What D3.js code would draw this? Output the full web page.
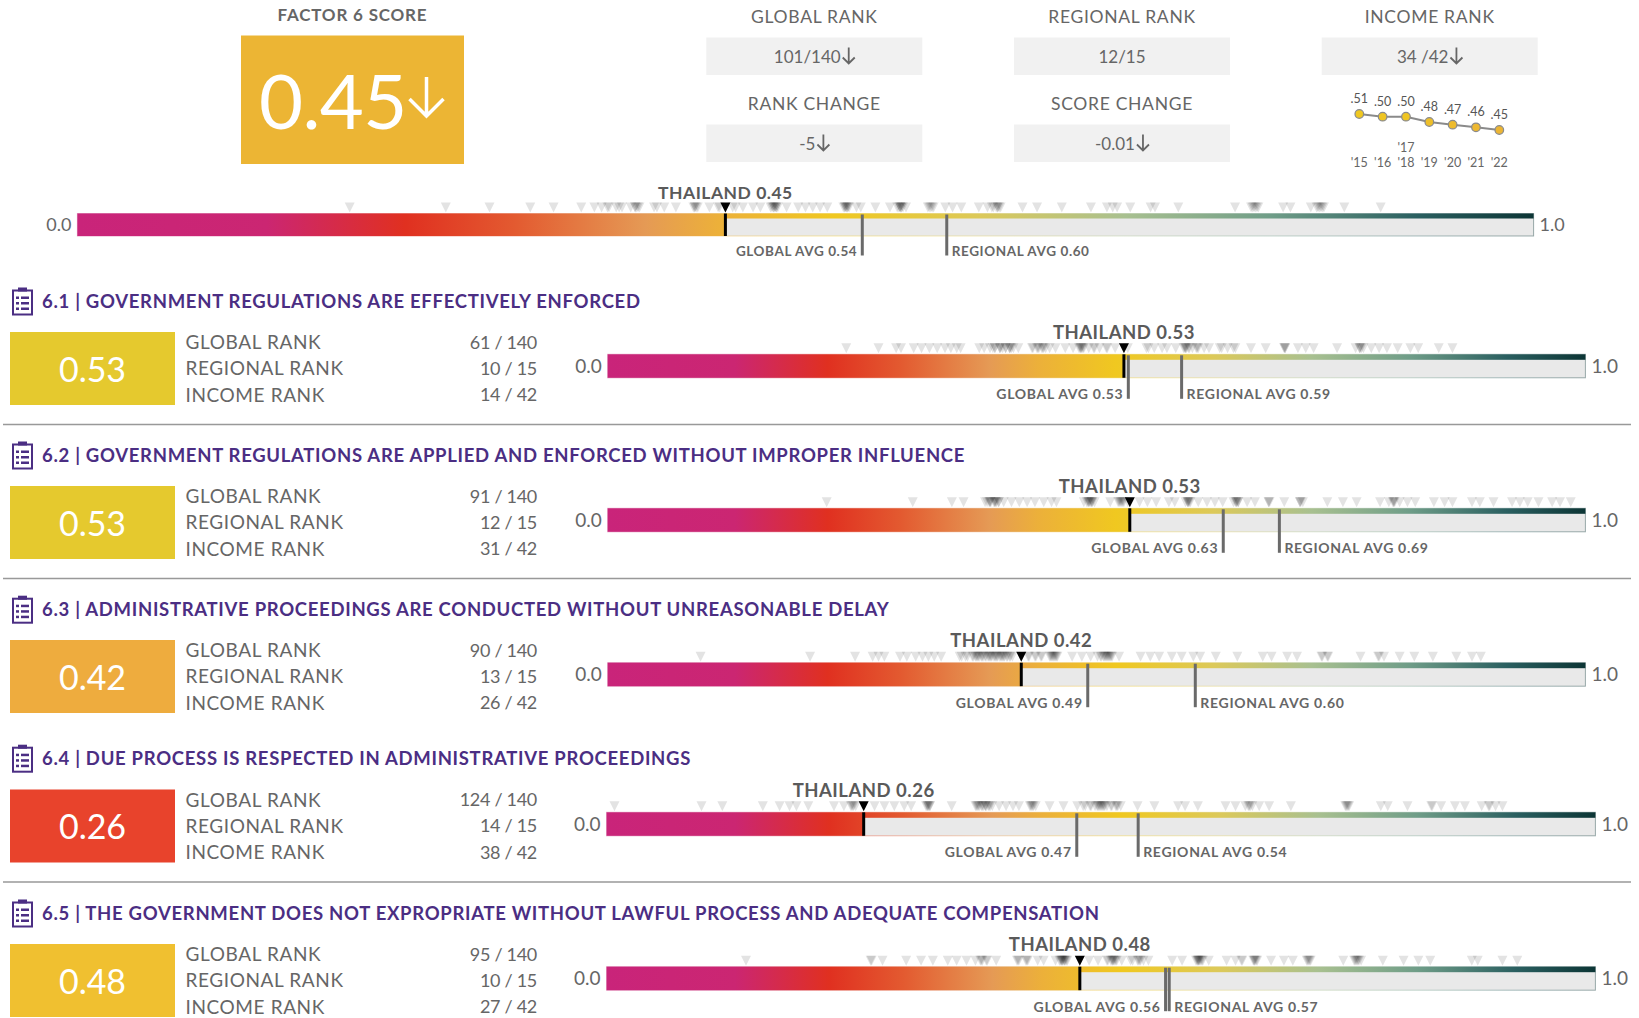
<!DOCTYPE html>
<html>
<head>
<meta charset="utf-8">
<script src="https://cdn.jsdelivr.net/npm/d3@7"></script>
<style>
  html, body { margin: 0; padding: 0; background: #fff; overflow: hidden; }
  text { font-family: Lato, sans-serif; dominant-baseline: central; }
</style>
</head>
<body>
<svg id="chart" width="1639" height="1018"></svg>
<script>
// ---- data ----
const factorScore = 0.445;
const factorLabel = '0.45';
const factorAvg = [0.539, 0.597];
const factorAvgLabels = ['GLOBAL AVG 0.54', 'REGIONAL AVG 0.60'];
const factorCountries = [.187,.253,.283,.311,.327,.346,.355,.360,.365,.370,.374,.380,.383,.384,.386,.396,.403,.411,.423,.424,.426,.434,.440,.450,.457,.464,.469,.476,.478,.479,.481,.487,.495,.500,.505,.510,.515,.526,.528,.530,.535,.538,.548,.558,.563,.565,.566,.569,.584,.586,.588,.596,.601,.607,.619,.625,.628,.632,.634,.649,.659,.676,.696,.707,.711,.714,.723,.737,.740,.756,.795,.806,.809,.811,.828,.833,.847,.851,.854,.856,.870,.895,
  .383,.385,.424,.425,.477,.478,.480,.480,.527,.528,.529,.564,.565,.566,.565,.567,.585,.587,.629,.631,.632,.633,.807,.808,.810,.852,.853,.855,.364,.372,.398,.441,.452,.479,.527,.529];

const headerStats = ['GLOBAL RANK', 'REGIONAL RANK', 'INCOME RANK', 'RANK CHANGE', 'SCORE CHANGE'];
const headerValues = ['101/140', '12/15', '34 /42', '-5', '-0.01'];
const headerArrows = [true, false, true, true, true];

const trendYears = ["'15", "'16", "'18", "'19", "'20", "'21", "'22"];
const trendScores = [.51, .50, .50, .48, .47, .46, .45];
const trendLabels = ['.51', '.50', '.50', '.48', '.47', '.46', '.45'];

const subTitles = [
  '6.1 | GOVERNMENT REGULATIONS ARE EFFECTIVELY ENFORCED',
  '6.2 | GOVERNMENT REGULATIONS ARE APPLIED AND ENFORCED WITHOUT IMPROPER INFLUENCE',
  '6.3 | ADMINISTRATIVE PROCEEDINGS ARE CONDUCTED WITHOUT UNREASONABLE DELAY',
  '6.4 | DUE PROCESS IS RESPECTED IN ADMINISTRATIVE PROCEEDINGS',
  '6.5 | THE GOVERNMENT DOES NOT EXPROPRIATE WITHOUT LAWFUL PROCESS AND ADEQUATE COMPENSATION'
];
const subScores = [.528, .534, .423, .260, .4786];
const subScoreLabels = ['0.53', '0.53', '0.42', '0.26', '0.48'];
const subGlobalAvg = [.5325, .6296, .491, .4755, .5653];
const subRegionalAvg = [.587, .687, .601, .5376, .569];
const subGlobalLabels = ['0.53', '0.63', '0.49', '0.47', '0.56'];
const subRegionalLabels = ['0.59', '0.69', '0.60', '0.54', '0.57'];
const rankNames = ['GLOBAL RANK', 'REGIONAL RANK', 'INCOME RANK'];
const subRanks = [
  ['61 / 140', '10 / 15', '14 / 42'],
  ['91 / 140', '12 / 15', '31 / 42'],
  ['90 / 140', '13 / 15', '26 / 42'],
  ['124 / 140', '14 / 15', '38 / 42'],
  ['95 / 140', '10 / 15', '27 / 42']
];
const subCountries = [
  [.244,.277,.295,.300,.313,.321,.329,.337,.345,.351,.357,.361,.380,.385,.391,.396,.401,.407,.411,.415,.420,.434,.439,.444,.448,.452,.458,.468,.476,.482,.484,.487,.492,.498,.503,.511,.519,.532,.551,.559,.567,.572,.581,.589,.591,.594,.602,.610,.615,.626,.634,.642,.658,.673,.692,.693,.706,.714,.722,.746,.765,.769,.773,.781,.789,.797,.808,.821,.829,.850,.864,
   .396,.401,.402,.407,.411,.412,.413,.435,.440,.441,.445,.446,.483,.484,.485,.486,.590,.591,.592,.692,.693,.769,.770,.771,.553,.603,.604,.628,.640,.598,.394,.404,.497,.510,.595],
  [.224,.312,.352,.364,.386,.391,.396,.400,.405,.413,.421,.429,.437,.446,.454,.459,.487,.492,.495,.498,.514,.522,.528,.532,.544,.552,.561,.574,.580,.591,.593,.596,.604,.613,.621,.629,.640,.643,.645,.654,.662,.676,.692,.708,.711,.736,.752,.766,.790,.799,.804,.810,.818,.826,.845,.856,.864,.884,.892,.906,.925,.933,.941,.952,.966,.974,.985,
   .390,.391,.392,.396,.397,.398,.490,.491,.492,.493,.494,.495,.524,.525,.526,.527,.593,.594,.595,.642,.643,.644,.676,.708,.709,.803,.804,.805,.395,.400,.594,.645,.677,.388,.523,.496],
  [.095,.207,.253,.271,.277,.283,.299,.306,.315,.322,.328,.334,.341,.360,.366,.373,.376,.379,.382,.386,.389,.392,.395,.398,.401,.405,.408,.411,.414,.430,.437,.443,.453,.456,.459,.475,.485,.494,.501,.504,.507,.510,.513,.516,.523,.545,.555,.564,.577,.587,.599,.606,.622,.644,.670,.679,.695,.705,.730,.737,.770,.788,.794,.810,.825,.844,.868,.884,.893,
   .362,.368,.374,.378,.380,.384,.387,.390,.393,.396,.399,.402,.404,.406,.409,.412,.431,.438,.444,.452,.454,.457,.458,.460,.505,.508,.511,.514,.731,.736,.789,.377,.383,.391,.397,.403,.455,.509,.512,.515],
  [.008,.096,.117,.158,.175,.185,.192,.204,.230,.240,.247,.250,.271,.281,.291,.301,.308,.323,.325,.327,.349,.373,.376,.380,.383,.387,.390,.397,.404,.411,.417,.428,.431,.434,.448,.462,.476,.482,.489,.496,.499,.503,.510,.516,.520,.537,.554,.578,.585,.598,.626,.636,.646,.653,.660,.670,.692,.747,.751,.783,.790,.810,.834,.844,.858,.868,.885,.892,.899,.906,
   .248,.249,.252,.324,.325,.326,.327,.374,.377,.379,.381,.384,.386,.388,.429,.430,.432,.484,.490,.494,.498,.501,.504,.506,.511,.515,.517,.649,.650,.651,.748,.749,.750,.835,.893,.375,.383,.497,.500,.502],
  [.141,.267,.279,.303,.318,.330,.345,.354,.364,.373,.379,.385,.394,.415,.424,.436,.442,.454,.460,.463,.466,.488,.497,.506,.512,.515,.521,.530,.539,.548,.572,.582,.597,.602,.609,.627,.636,.642,.654,.657,.672,.685,.694,.709,.712,.745,.757,.763,.785,.806,.821,.833,.875,.881,.906,.921,
   .268,.416,.425,.426,.378,.380,.384,.458,.459,.460,.461,.462,.464,.465,.507,.510,.511,.513,.514,.516,.532,.538,.540,.543,.596,.598,.599,.600,.601,.603,.655,.656,.658,.710,.711,.756,.758,.759,.761,.643,.461,.512,.598,.655,.463,.599,.417,.537,.708,.760],
];

// ---- layout and colours ----
const rampStops = [
  [0, '#c9247a'], [.13, '#cb2672'], [.225, '#e03020'], [.30, '#e35a30'], [.39, '#e59a55'],
  [.44, '#ecb03a'], [.52, '#f0c820'], [.62, '#dcc95a'], [.72, '#a8c090'], [.82, '#6f9d88'],
  [.92, '#2a5f60'], [1, '#0c3535']
];
const subBoxColors = ['#e5c92e', '#e5c92e', '#eeac3e', '#e8432c', '#f0c030'];
const subBarTop = [354.3, 508.3, 662.7, 812.3, 966.7];
const subBarRange = [[607.7, 1585.4], [607.7, 1585.4], [607.7, 1585.4], [606.6, 1595.4], [606.6, 1595.4]];
const subBoxTop = [332, 486, 640, 789.5, 944];
const subTitleY = [300.8, 454.8, 609, 758, 912.8];
const separatorY = [424.5, 578.5, 882];
const INK = '#666';

const svg = d3.select('#chart');
const defs = svg.append('defs');

// score bar with gradient, country triangles and the two average markers
const scoreBar = (parent, props) => {
  const { id, range, top, height, stripHeight, score, countries, avgs, avgLabels, name, nameY, nameSize, avgLabelY, avgBottom, avgSize, avgSpacing, endSize } = props;
  const x = d3.scaleLinear().domain([0, 1]).range(range);
  const g = parent.append('g').attr('class', 'bar');

  const grad = defs.append('linearGradient')
    .attr('id', id)
    .attr('gradientUnits', 'userSpaceOnUse')
    .attr('x1', x(0)).attr('x2', x(1)).attr('y1', 0).attr('y2', 0);
  grad.selectAll('stop').data(rampStops).join('stop')
    .attr('offset', d => d[0])
    .attr('stop-color', d => d[1]);

  g.append('rect')
    .attr('x', x(0)).attr('y', top)
    .attr('width', x(1) - x(0)).attr('height', height)
    .attr('fill', '#e9e9e9');
  // thin tinted edge round the box
  g.append('rect')
    .attr('x', x(0)).attr('y', top)
    .attr('width', x(1) - x(0)).attr('height', height)
    .attr('fill', 'none')
    .attr('stroke', `url(#${id})`)
    .attr('stroke-opacity', 0.4);
  g.append('rect')
    .attr('x', x(score)).attr('y', top)
    .attr('width', x(1) - x(score)).attr('height', stripHeight)
    .attr('fill', `url(#${id})`);
  g.append('rect')
    .attr('x', x(0)).attr('y', top)
    .attr('width', x(score) - x(0)).attr('height', height)
    .attr('fill', `url(#${id})`);

  const tri = (cx, size) => `M${cx - 5},${top - 1 - size}L${cx + 5},${top - 1 - size}L${cx},${top - 1}Z`;
  g.selectAll('.country').data(countries).join('path')
    .attr('class', 'country')
    .attr('d', d => tri(x(d), 10))
    .attr('fill', '#000')
    .attr('fill-opacity', 0.11);

  // averages
  avgs.forEach((a, i) => {
    g.append('line')
      .attr('x1', x(a)).attr('x2', x(a))
      .attr('y1', top + 1).attr('y2', avgBottom)
      .attr('stroke', '#6a6a6a').attr('stroke-width', 3);
    g.append('text')
      .attr('x', x(a) + (i === 0 ? -5 : 5))
      .attr('y', avgLabelY)
      .attr('text-anchor', i === 0 ? 'end' : 'start')
      .attr('font-size', avgSize)
      .attr('font-weight', 700)
      .attr('letter-spacing', avgSpacing)
      .attr('fill', INK)
      .text(avgLabels[i]);
  });

  g.append('line')
    .attr('x1', x(score)).attr('x2', x(score))
    .attr('y1', top).attr('y2', top + height)
    .attr('stroke', '#000').attr('stroke-width', 3);
  g.append('path').attr('d', tri(x(score), 10)).attr('fill', '#000');

  g.append('text')
    .attr('x', x(score)).attr('y', nameY)
    .attr('text-anchor', 'middle')
    .attr('font-size', nameSize)
    .attr('font-weight', 700)
    .attr('letter-spacing', 0.5)
    .attr('fill', '#5a5a5a')
    .text(name);

  g.append('text')
    .attr('x', x(0) - 6).attr('y', top + height / 2 - 0.6)
    .attr('text-anchor', 'end').attr('font-size', endSize).attr('fill', INK)
    .text('0.0');
  g.append('text')
    .attr('x', x(1) + 6).attr('y', top + height / 2 - 0.6)
    .attr('text-anchor', 'start').attr('font-size', endSize).attr('fill', INK)
    .text('1.0');
};

const downArrow = (parent, cx, y0, y1, spread, color, width) => {
  parent.append('path')
    .attr('d', `M${cx},${y0}L${cx},${y1}M${cx - spread},${y1 - spread}L${cx},${y1}L${cx + spread},${y1 - spread}`)
    .attr('fill', 'none')
    .attr('stroke', color)
    .attr('stroke-width', width);
};

// ---- header ----
const header = svg.append('g').attr('class', 'header');
header.append('text')
  .attr('x', 352.5).attr('y', 14.5)
  .attr('text-anchor', 'middle')
  .attr('font-size', 17).attr('font-weight', 700).attr('letter-spacing', 0.8).attr('fill', '#666')
  .text('FACTOR 6 SCORE');
header.append('rect')
  .attr('x', 241).attr('y', 35.5).attr('width', 223).attr('height', 128.5)
  .attr('fill', '#ecb534');
header.append('text')
  .attr('x', 259).attr('y', 99.5)
  .attr('font-size', 76).attr('font-weight', 400).attr('letter-spacing', -0.6).attr('fill', '#fff')
  .text(factorLabel);
downArrow(header, 426.5, 77, 116, 17, '#fff', 3.5);

const statX = [814.3, 1122, 1429.7, 814.3, 1122];
const statY = [16.5, 16.5, 16.5, 103.2, 103.2];
headerStats.forEach((label, i) => {
  const boxTop = i < 3 ? 37.5 : 124.5;
  header.append('text')
    .attr('x', statX[i]).attr('y', statY[i])
    .attr('text-anchor', 'middle')
    .attr('font-size', 17.5).attr('letter-spacing', 0.7).attr('fill', INK)
    .text(label);
  header.append('rect')
    .attr('x', statX[i] - 108).attr('y', boxTop).attr('width', 216).attr('height', 37.5)
    .attr('fill', '#f1f1f1');
  const t = header.append('text')
    .attr('x', statX[i] - (headerArrows[i] ? 7 : 0)).attr('y', boxTop + 19)
    .attr('text-anchor', 'middle')
    .attr('font-size', 17).attr('fill', INK)
    .text(headerValues[i]);
  if (headerArrows[i]) {
    const w = t.node().getComputedTextLength();
    downArrow(header, statX[i] - 7 + w / 2 + 8, boxTop + 10, boxTop + 26, 6, '#666', 1.8);
  }
});

// ---- small trend line ----
const trend = svg.append('g').attr('class', 'trend');
const trendX = d3.scalePoint().domain(trendYears).range([1359.3, 1499.3]);
const trendY = d3.scaleLinear().domain([.45, .51]).range([130, 114]);
const trendColor = d3.scaleLinear().domain([.45, .51]).range(['#ecb534', '#f0c820']);
const trendLine = d3.line().x((d, i) => trendX(trendYears[i])).y(d => trendY(d));
trend.append('path')
  .attr('d', trendLine(trendScores))
  .attr('fill', 'none').attr('stroke', '#8a8a8a').attr('stroke-width', 2);
trend.selectAll('circle').data(trendScores).join('circle')
  .attr('cx', (d, i) => trendX(trendYears[i]))
  .attr('cy', d => trendY(d))
  .attr('r', 4.3)
  .attr('fill', d => trendColor(d))
  .attr('stroke', '#8a8a8a').attr('stroke-width', 1.2);
trend.selectAll('.val').data(trendScores).join('text')
  .attr('class', 'val')
  .attr('x', (d, i) => trendX(trendYears[i]))
  .attr('y', d => trendY(d) - 15.5)
  .attr('text-anchor', 'middle').attr('font-size', 12.5).attr('fill', '#555')
  .text((d, i) => trendLabels[i]);
trend.selectAll('.yr').data(trendYears).join('text')
  .attr('class', 'yr')
  .attr('x', d => trendX(d)).attr('y', 162)
  .attr('text-anchor', 'middle').attr('font-size', 12.5).attr('fill', INK)
  .text(d => d);
trend.append('text')
  .attr('x', trendX("'18")).attr('y', 147)
  .attr('text-anchor', 'middle').attr('font-size', 12.5).attr('fill', INK)
  .text("'17");

// ---- factor bar ----
scoreBar(svg, {
  id: 'ramp-top', range: [77.4, 1533.6], top: 213.5, height: 22.5, stripHeight: 5,
  score: factorScore, countries: factorCountries, avgs: factorAvg, avgLabels: factorAvgLabels,
  name: 'THAILAND 0.45', nameY: 192, nameSize: 17.5, avgLabelY: 250.8, avgBottom: 255.5, avgSize: 13.5, avgSpacing: 0.6, endSize: 18
});

// ---- sub factors ----
const clipboard = (parent, cy) => {
  const g = parent.append('g').attr('transform', `translate(12,${cy - 13.5})`).attr('fill', '#4b2e83');
  g.append('rect').attr('x', 1).attr('y', 3).attr('width', 19).attr('height', 24)
    .attr('fill', '#fff').attr('stroke', '#4b2e83').attr('stroke-width', 2);
  g.append('rect').attr('x', 6).attr('y', 0).attr('width', 9).attr('height', 4);
  d3.range(3).forEach(i => {
    g.append('rect').attr('x', 4).attr('y', 9 + i * 5.5).attr('width', 3).attr('height', 2.5);
    g.append('rect').attr('x', 9).attr('y', 9 + i * 5.5).attr('width', 8).attr('height', 2.5);
  });
};

subTitles.forEach((title, i) => {
  const row = svg.append('g').attr('class', 'row');
  clipboard(row, subTitleY[i] + 0.2);
  row.append('text')
    .attr('x', 42).attr('y', subTitleY[i])
    .attr('font-size', 18.5).attr('font-weight', 700).attr('letter-spacing', 0.7)
    .attr('fill', '#4b2e83')
    .text(title);

  row.append('rect')
    .attr('x', 10).attr('y', subBoxTop[i]).attr('width', 165).attr('height', 73)
    .attr('fill', subBoxColors[i]);
  row.append('text')
    .attr('x', 92.5).attr('y', subBoxTop[i] + 36)
    .attr('text-anchor', 'middle')
    .attr('font-size', 34).attr('fill', '#fff')
    .text(subScoreLabels[i]);

  rankNames.forEach((name, j) => {
    const y = subBoxTop[i] + 9.6 + j * 26.3;
    row.append('text').attr('x', 185.5).attr('y', y)
      .attr('font-size', 19).attr('letter-spacing', 0.6).attr('fill', INK).text(name);
    row.append('text').attr('x', 537).attr('y', y)
      .attr('text-anchor', 'end').attr('font-size', 18).attr('letter-spacing', -0.3).attr('fill', INK).text(subRanks[i][j]);
  });

  const top = subBarTop[i];
  scoreBar(row, {
    id: `ramp-${i}`, range: subBarRange[i], top, height: 23.5, stripHeight: 5.5,
    score: subScores[i], countries: subCountries[i],
    avgs: [subGlobalAvg[i], subRegionalAvg[i]],
    avgLabels: [`GLOBAL AVG ${subGlobalLabels[i]}`, `REGIONAL AVG ${subRegionalLabels[i]}`],
    name: `THAILAND ${subScoreLabels[i]}`, nameY: top - 22.8, nameSize: 18.5,
    avgLabelY: top + 39.6, avgBottom: top + 44.5, avgSize: 14, avgSpacing: 0.7, endSize: 19
  });
});

svg.selectAll('.sep').data(separatorY).join('line')
  .attr('class', 'sep')
  .attr('x1', 3).attr('x2', 1631)
  .attr('y1', d => d).attr('y2', d => d)
  .attr('stroke', '#999').attr('stroke-width', 1.5);
</script>
</body>
</html>
